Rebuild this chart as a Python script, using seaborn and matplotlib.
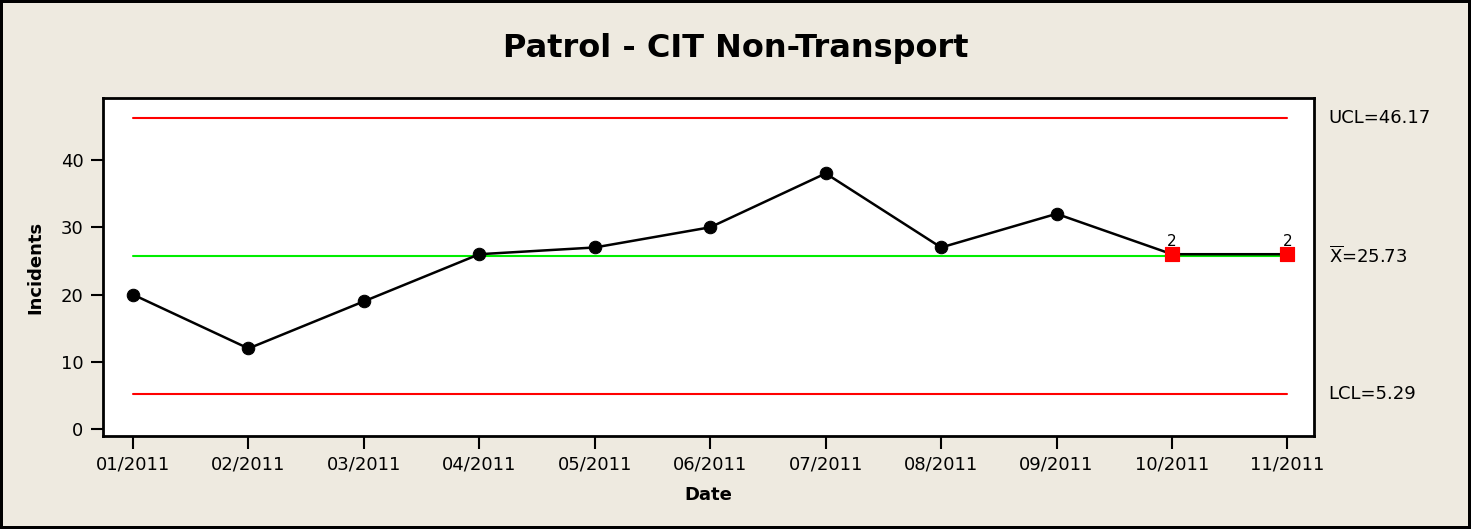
import pandas as pd
import matplotlib.pyplot as plt
import seaborn as sns

# Control chart data
months = ["01/2011", "02/2011", "03/2011", "04/2011", "05/2011", "06/2011",
          "07/2011", "08/2011", "09/2011", "10/2011", "11/2011"]
incidents = [20, 12, 19, 26, 27, 30, 38, 27, 32, 26, 26]
flagged = [9, 10]          # points failing test 2
ucl = 46.17
center = 25.73
lcl = 5.29

df = pd.DataFrame({"idx": range(len(months)), "Incidents": incidents})

sns.set_style("white")
plt.rcParams['font.family'] = ['DejaVu Sans']
plt.rcParams['text.color'] = 'black'
plt.rcParams['axes.labelcolor'] = 'black'

bg = "#EEEAE0"
fig = plt.figure(figsize=(14.71, 5.29), dpi=100, facecolor=bg,
                 edgecolor="black", linewidth=3)
ax = fig.add_axes([103 / 1471, 1 - 436 / 529, (1314 - 103) / 1471, (436 - 98) / 529])
ax.set_facecolor("white")

# limit lines
x0, x1 = 0, len(months) - 1
ax.plot([x0, x1], [ucl, ucl], color="red", lw=1.5)
ax.plot([x0, x1], [lcl, lcl], color="red", lw=1.5)
ax.plot([x0, x1], [center, center], color="#00EE00", lw=1.5)

sns.lineplot(data=df, x="idx", y="Incidents", color="black", lw=1.8,
             marker="o", markersize=9, markeredgecolor="black", ax=ax)

fl = df.iloc[flagged]
sns.scatterplot(data=fl, x="idx", y="Incidents", marker="s", s=110,
                color="red", edgecolor="red", zorder=5, ax=ax)
for _, r in fl.iterrows():
    ax.text(r["idx"], r["Incidents"] + 0.8, "2", ha="center", va="bottom", fontsize=11)

ax.set_xlim(-0.26, 10.23)
ax.set_ylim(-1.0, 49.2)
ax.set_xticks(range(len(months)))
ax.set_xticklabels(months)
ax.set_yticks([0, 10, 20, 30, 40])
ax.tick_params(direction="out", length=9, width=1.5, labelsize=13, colors="black",
               bottom=True, left=True, pad=5)
for s in ax.spines.values():
    s.set_linewidth(2)
    s.set_color("black")

ax.set_xlabel("Date", fontsize=13, fontweight="bold", labelpad=9)
ax.set_ylabel("Incidents", fontsize=13, fontweight="bold", labelpad=12)

# right-hand labels
trans = ax.get_yaxis_transform()
ax.text(1.012, ucl, "UCL=46.17", transform=trans, va="center", fontsize=13, clip_on=False)
ax.text(1.012, center, "$\\overline{\\mathrm{X}}$=25.73", transform=trans, va="center",
        fontsize=13, clip_on=False)
ax.text(1.012, lcl, "LCL=5.29", transform=trans, va="center", fontsize=13, clip_on=False)

fig.text(0.5, 1 - 48 / 529, "Patrol - CIT Non-Transport", ha="center", va="center",
         fontsize=23, fontweight="bold", color="black")

fig.savefig("out.png", dpi=100, facecolor=bg, edgecolor="black")
